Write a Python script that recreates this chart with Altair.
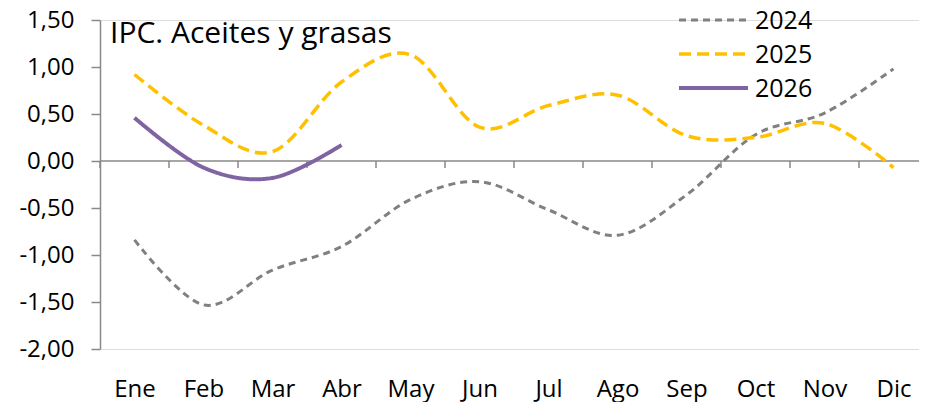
import json
import altair as alt
import pandas as pd

months = ["Ene", "Feb", "Mar", "Abr", "May", "Jun", "Jul", "Ago", "Sep", "Oct", "Nov", "Dic"]
v2024 = [-0.84, -1.53, -1.16, -0.91, -0.41, -0.22, -0.52, -0.79, -0.36, 0.28, 0.51, 0.98]
v2025 = [0.92, 0.38, 0.10, 0.84, 1.13, 0.36, 0.59, 0.70, 0.27, 0.25, 0.40, -0.07]
v2026 = [0.46, -0.07, -0.18, 0.17]
series = ["2024", "2025", "2026"]
colors = ["#808080", "#FFC000", "#8064A2"]
dashes = [[7, 5], [12, 6], [1, 0]]
widths = [3, 4, 4]
y_ticks = [-2.0, -1.5, -1.0, -0.5, 0.0, 0.5, 1.0, 1.5]

rows = []
for name, vals in zip(series, [v2024, v2025, v2026]):
    for i, v in enumerate(vals):
        rows.append({"serie": name, "pos": i + 0.5, "mes": months[i], "valor": v})
df = pd.DataFrame(rows)

W, H = 819, 329
Y_MIN, Y_MAX = -2.0, 1.5
zero_px = H * (Y_MAX - 0) / (Y_MAX - Y_MIN)
FONT = "Open Sans"
AXIS_COLOR = "#898989"
FS = 24

# legend layout (pixels, relative to plot area)
LEG_X, LEG_LEN, LEG_Y0, LEG_DY = 579, 69, 0, 34
leg_df = pd.DataFrame({"serie": series, "ly": [LEG_Y0 + i * LEG_DY for i in range(len(series))]})

x_scale = alt.Scale(domain=[0, W / 69.0], nice=False, zero=False)
y_scale = alt.Scale(domain=[Y_MIN, Y_MAX], nice=False)
color_scale = alt.Scale(domain=series, range=colors)
dash_scale = alt.Scale(domain=series, range=dashes)
width_scale = alt.Scale(domain=series, range=widths)

month_expr = json.dumps(months) + "[floor(datum.value)]"
y_label_expr = "replace(replace(format(datum.value, '.2f'), '.', ','), '\u2212', '-')"

lines = alt.Chart(df).mark_line(interpolate="cardinal", clip=True).encode(
    x=alt.X("pos:Q", scale=x_scale, axis=alt.Axis(
        values=[i + 0.5 for i in range(12)], labelExpr=month_expr, ticks=False,
        domain=False, grid=False, labelPadding=28, title=None, labelFontSize=FS,
        labelFont=FONT, labelColor="black")),
    y=alt.Y("valor:Q", scale=y_scale, axis=alt.Axis(
        values=y_ticks, labelExpr=y_label_expr, grid=False, title=None,
        domainColor=AXIS_COLOR, tickColor=AXIS_COLOR, domainWidth=1.5, tickWidth=1.5,
        tickSize=9, labelPadding=17, labelFontSize=FS, labelFont=FONT, labelColor="black")),
    color=alt.Color("serie:N", scale=color_scale, legend=None),
    strokeDash=alt.StrokeDash("serie:N", scale=dash_scale, legend=None),
    strokeWidth=alt.StrokeWidth("serie:N", scale=width_scale, legend=None),
)

zero = alt.Chart(pd.DataFrame({"y": [0.0]})).mark_rule(color=AXIS_COLOR, strokeWidth=1.5).encode(
    y=alt.Y("y:Q", scale=y_scale)
)

ticks = alt.Chart(pd.DataFrame({"b": list(range(12))})).mark_rule(color=AXIS_COLOR, strokeWidth=1.5).encode(
    x=alt.X("b:Q", scale=x_scale),
    y=alt.datum(0.0),
    y2=alt.value(zero_px + 7),
)

leg_lines = alt.Chart(leg_df).mark_rule().encode(
    x=alt.value(LEG_X),
    x2=alt.value(LEG_X + LEG_LEN),
    y=alt.Y("ly:Q", scale=None, axis=None),
    color=alt.Color("serie:N", scale=color_scale, legend=None),
    strokeDash=alt.StrokeDash("serie:N", scale=dash_scale, legend=None),
    strokeWidth=alt.StrokeWidth("serie:N", scale=width_scale, legend=None),
)

leg_text = alt.Chart(leg_df).mark_text(
    align="left", baseline="middle", fontSize=25, font=FONT, color="black", dy=1
).encode(
    x=alt.value(LEG_X + LEG_LEN + 7),
    y=alt.Y("ly:Q", scale=None, axis=None),
    text="serie:N",
)

chart = alt.layer(zero, ticks, lines, leg_lines, leg_text).properties(
    width=W, height=H,
    title=alt.TitleParams("IPC. Aceites y grasas", anchor="start", frame="group", fontSize=30, font=FONT,
                          fontWeight="normal", color="black", dx=10, dy=45),
    autosize=alt.AutoSizeParams(type="none"),
    padding={"left": 92, "top": 12, "right": 0, "bottom": 60},
).configure_view(stroke=None).configure(background="white")

chart.save("out.html", embed_options={"renderer": "svg", "actions": False})
